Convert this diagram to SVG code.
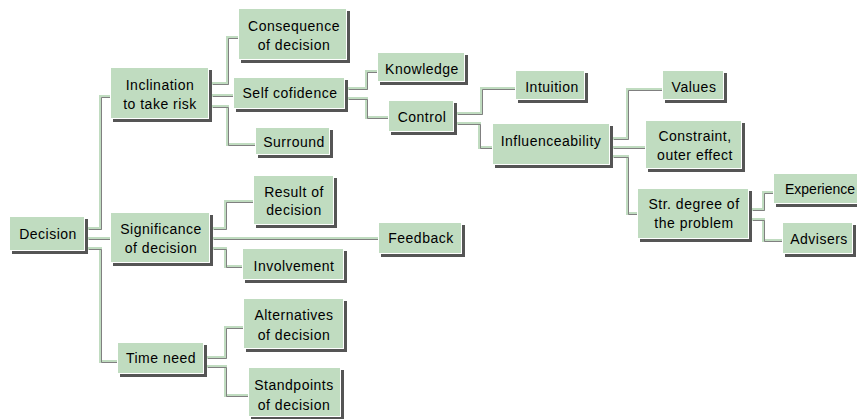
<svg xmlns="http://www.w3.org/2000/svg" xmlns:xlink="http://www.w3.org/1999/xlink" width="857" height="419" viewBox="0 0 857 419">
<style>
.n rect{fill:#c0dcc0;stroke:#ffffff;stroke-width:1;filter:url(#sh)}
.n text{font-family:"Liberation Sans",Arial,sans-serif;font-size:14px;letter-spacing:0.5px;fill:#000;text-anchor:middle}
.n text.l{text-anchor:start;letter-spacing:0}
#lines path{fill:none}
</style>
<defs>
<filter id="sh" x="-0.1" y="-0.2" width="1.3" height="1.6">
<feFlood flood-color="#555555"/>
<feComposite in2="SourceAlpha" operator="in"/>
<feOffset dx="3" dy="3"/>
<feMerge><feMergeNode/><feMergeNode in="SourceGraphic"/></feMerge>
</filter>
</defs>
<rect width="857" height="419" fill="#ffffff"/>
<g id="connectors">
<g stroke="#c0dcc0" stroke-width="3">
<g id="lines">
<path d="M88,228.5 H100.5 V96.5 H110"/>
<path d="M88,238.5 H110"/>
<path d="M88,248.5 H100.5 V361.5 H117"/>
<path d="M212,83.5 H227.5 V37.5 H238"/>
<path d="M212,95.5 H233"/>
<path d="M212,106.5 H227.5 V144.5 H255"/>
<path d="M348,88.5 H366.5 V71.5 H377"/>
<path d="M348,98.5 H366.5 V117.5 H388"/>
<path d="M457,113.5 H481.5 V88.5 H515"/>
<path d="M457,123.5 H479.5 V147.5 H492"/>
<path d="M613,138.5 H627.5 V89.5 H662"/>
<path d="M613,147.5 H645"/>
<path d="M613,156.5 H627.5 V213.5 H637"/>
<path d="M752,209.5 H763.5 V192.5 H773"/>
<path d="M752,219.5 H763.5 V240.5 H782"/>
<path d="M213,228.5 H225.5 V201.5 H253"/>
<path d="M213,238.5 H378"/>
<path d="M213,248.5 H225.5 V266.5 H242"/>
<path d="M207,357.5 H225.5 V327.5 H243"/>
<path d="M207,366.5 H225.5 V395.5 H248"/>
</g>
</g>
<use xlink:href="#lines" href="#lines" stroke="#808080" stroke-width="1" transform="translate(1,1)"/>
</g>
<g id="decision" class="n"><rect x="9.5" y="216.5" width="75" height="34"/><text x="48" y="239">Decision</text></g>
<g id="inclination" class="n"><rect x="110.5" y="67.5" width="98" height="51"/><text x="160" y="90">Inclination</text><text x="160" y="109">to take risk</text></g>
<g id="significance" class="n"><rect x="110.5" y="212.5" width="99" height="50"/><text x="161" y="234">Significance</text><text x="161" y="253">of decision</text></g>
<g id="timeneed" class="n"><rect x="117.5" y="342.5" width="86" height="31"/><text x="161" y="363">Time need</text></g>
<g id="consequence" class="n"><rect x="238.5" y="8.5" width="108" height="51"/><text x="294" y="31">Consequence</text><text x="294" y="50">of decision</text></g>
<g id="selfconfidence" class="n"><rect x="233.5" y="77.5" width="111" height="31"/><text x="290" y="98">Self cofidence</text></g>
<g id="surround" class="n"><rect x="255.5" y="127.5" width="74" height="27"/><text x="294" y="147">Surround</text></g>
<g id="knowledge" class="n"><rect x="377.5" y="52.5" width="87" height="29"/><text x="422" y="74">Knowledge</text></g>
<g id="control" class="n"><rect x="388.5" y="100.5" width="65" height="31"/><text x="422" y="122">Control</text></g>
<g id="intuition" class="n"><rect x="515.5" y="70.5" width="69" height="29"/><text x="552" y="92">Intuition</text></g>
<g id="influenceability" class="n"><rect x="492.5" y="123.5" width="117" height="41"/><text x="551" y="146">Influenceability</text></g>
<g id="values" class="n"><rect x="662.5" y="70.5" width="61" height="29"/><text x="694" y="92">Values</text></g>
<g id="constraint" class="n"><rect x="645.5" y="120.5" width="96" height="48"/><text x="695" y="141">Constraint,</text><text x="695" y="160">outer effect</text></g>
<g id="strdegree" class="n"><rect x="637.5" y="188.5" width="111" height="50"/><text x="694" y="209">Str. degree of</text><text x="694" y="228">the problem</text></g>
<g id="experience" class="n"><rect x="773.5" y="173.5" width="100" height="30"/><text class="l" x="785" y="194">Experience</text></g>
<g id="advisers" class="n"><rect x="782.5" y="222.5" width="70" height="31"/><text x="819" y="244">Advisers</text></g>
<g id="result" class="n"><rect x="253.5" y="175.5" width="80" height="49"/><text x="294" y="197">Result of</text><text x="294" y="215">decision</text></g>
<g id="feedback" class="n"><rect x="378.5" y="222.5" width="83" height="31"/><text x="421" y="243">Feedback</text></g>
<g id="involvement" class="n"><rect x="242.5" y="248.5" width="101" height="31"/><text x="294" y="271">Involvement</text></g>
<g id="alternatives" class="n"><rect x="243.5" y="298.5" width="100" height="50"/><text x="294" y="320">Alternatives</text><text x="294" y="340">of decision</text></g>
<g id="standpoints" class="n"><rect x="248.5" y="367.5" width="92" height="49"/><text x="294" y="390">Standpoints</text><text x="294" y="410">of decision</text></g>
</svg>
